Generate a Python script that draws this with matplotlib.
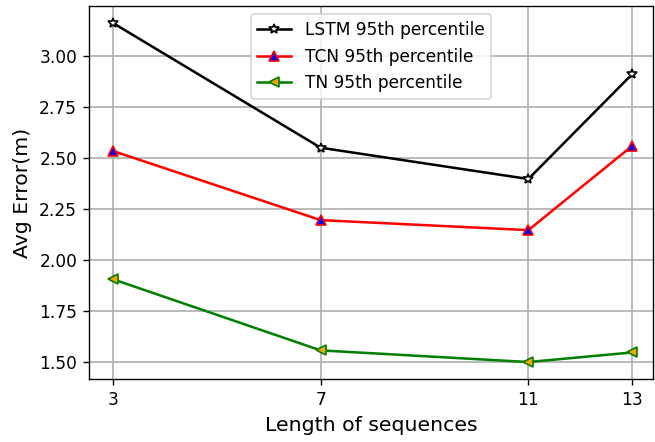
import matplotlib
matplotlib.use("Agg")
import matplotlib.pyplot as plt

seq_len = [3, 7, 11, 13]
lstm_p95 = [3.16, 2.55, 2.397, 2.91]
tcn_p95 = [2.534, 2.196, 2.147, 2.559]
tn_p95 = [1.907, 1.559, 1.502, 1.549]

DPI = 122
fig = plt.figure(figsize=(655 / DPI, 442 / DPI), dpi=DPI)
ax = fig.add_axes([89 / 655, 63 / 442, 564 / 655, 373 / 442])

ax.plot(seq_len, lstm_p95, color="black", marker="*", markerfacecolor="white",
        markeredgecolor="black", markersize=6, lw=1.5, label="LSTM 95th percentile")
ax.plot(seq_len, tcn_p95, color="red", marker="^", markerfacecolor="blue",
        markeredgecolor="red", markersize=6, lw=1.5, label="TCN 95th percentile")
ax.plot(seq_len, tn_p95, color="green", marker="<", markerfacecolor="orange",
        markeredgecolor="green", markersize=6, lw=1.5, label="TN 95th percentile")

ax.set_xticks(seq_len)
ax.set_xlim(2.54, 13.4)
ax.set_xlabel("Length of sequences", fontsize=12)
ax.set_ylabel("Avg Error(m)", fontsize=12)
ax.grid(True, color="#b0b0b0", lw=1)
ax.legend(loc="upper center", fontsize=10)

fig.savefig("out.png", dpi=DPI)
